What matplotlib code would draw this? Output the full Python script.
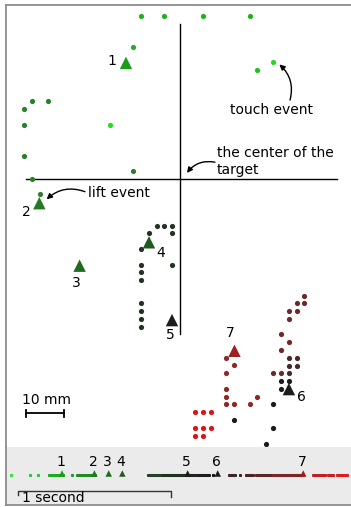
import matplotlib
matplotlib.use('Agg')
import matplotlib.pyplot as plt

# ---- touch trace, positions in mm relative to the target centre ----
touch_pt = [(24.1, 30.5)]
early_pt = [(20.1, 28.4)]
top_row = [(-10.2, 42.6), (-4.3, 42.6), (5.9, 42.6), (18.1, 42.6), (-12.3, 34.5)]
odd_pt = [(-18.3, 14.2)]
left_arc = [(-38.6, 20.3), (-34.6, 20.3), (-40.7, 18.3), (-40.7, 14.2),
            (-40.7, 6.1), (-12.3, 2.0), (-38.6, 0.0), (-36.6, -3.9)]
dark_green = [(-6.2, -12.2), (-4.2, -12.2), (-2.2, -12.2), (-8.2, -14.2), (-2.2, -14.2),
              (-10.3, -18.3), (-2.2, -22.3), (-10.3, -22.3), (-10.3, -24.3), (-10.3, -26.4),
              (-10.3, -32.4), (-10.3, -34.4), (-10.3, -36.5), (-10.3, -38.5)]
maroon_a = [(32.3, -30.4), (30.3, -32.4), (32.3, -32.4), (28.3, -34.4), (30.3, -34.4),
            (28.3, -36.5), (26.3, -40.5), (28.3, -42.6), (26.3, -44.6), (24.2, -50.7),
            (26.3, -50.7)]
maroon_b = [(28.3, -46.6), (30.3, -46.6), (28.3, -48.7), (30.3, -48.7), (28.3, -50.7)]
black_pts = [(26.3, -52.7), (28.3, -52.7), (26.3, -54.8), (24.2, -58.8), (24.2, -64.9),
             (22.2, -69.0), (14.1, -62.9)]
red_col = [(12.0, -46.6), (14.1, -48.6), (12.0, -50.7), (12.0, -54.8), (12.0, -56.8),
           (12.0, -58.8), (14.1, -58.8), (18.1, -58.8), (20.1, -56.8)]
red_block = [(3.9, -60.9), (5.9, -60.9), (7.9, -60.9), (3.9, -64.9), (5.9, -64.9),
             (7.9, -64.9), (3.9, -67.0), (5.9, -67.0)]

# numbered events (triangles)
ev_x = [-14.2, -36.8, -26.3, -8.2, -2.2, 28.3, 14.1]
ev_y = [30.3, -6.3, -22.6, -16.5, -36.8, -54.8, -44.8]
ev_lab = ['1', '2', '3', '4', '5', '6', '7']
ev_lab_x = [-17.9, -40.3, -27.2, -5.2, -2.6, 31.5, 13.0]
ev_lab_y = [30.9, -8.7, -27.1, -19.4, -40.6, -56.8, -40.1]
ev_col = ['#1c9c1c', '#227a22', '#1f6b1f', '#215a21', '#1c1c1c', '#1c1c1c', '#9e1f1f']

# ---- timeline, seconds ----
tl_seg = [(0.0, 0.0), (0.124, 0.124), (0.175, 0.175), (0.251, 0.343), (0.399, 0.399),
          (0.430, 0.550), (0.895, 0.987), (0.995, 1.151), (1.159, 1.216), (1.231, 1.297),
          (1.321, 1.321), (1.428, 1.467), (1.500, 1.500), (1.539, 1.585), (1.604, 1.701),
          (1.716, 1.914), (1.976, 2.056), (2.076, 2.109), (2.135, 2.198)]
tl_col = ['#33dd33', '#26cc26', '#26cc26', '#22aa22', '#229922',
          '#248a24', '#2a3f2a', '#223022', '#1e241e', '#1c1c1c',
          '#151515', '#3c2424', '#3c2424', '#4a2424', '#5c2626',
          '#7a2626', '#c02222', '#cc1e1e', '#dd1c1c']
tl_ev = [0.334, 0.546, 0.640, 0.729, 1.157, 1.354, 1.914]

fig = plt.figure(figsize=(3.51, 5.07), dpi=100)
ax = fig.add_axes([6/351, 60/507, 345/351, 442/507])
ax.set_xlim(-45.5, 44.5)
ax.set_ylim(-69.9, 45.4)
ax.set_xticks([])
ax.set_yticks([])
for s in ['right', 'bottom']:
    ax.spines[s].set_visible(False)
for s in ['left', 'top']:
    ax.spines[s].set_color('#8c8c8c')
    ax.spines[s].set_linewidth(1.3)

# crosshair at target centre
ax.plot([-40.3, 40.8], [0, 0], color='black', lw=1, zorder=1)
ax.plot([0, 0], [-40.5, 40.4], color='black', lw=1, zorder=1)

groups = [(touch_pt, '#2bd42b'), (early_pt, '#23bf23'), (top_row, '#1faf1f'),
          (odd_pt, '#25d925'), (left_arc, '#2b7f2b'), (dark_green, '#233223'),
          (maroon_a, '#6e2828'), (maroon_b, '#452828'), (black_pts, '#1a1a1a'),
          (red_col, '#8c2828'), (red_block, '#d01a1a')]
for pts, c in groups:
    xs = [p[0] for p in pts]
    ys = [p[1] for p in pts]
    ax.scatter(xs, ys, s=14, color=c, linewidths=0, zorder=2)

ax.scatter(ev_x, ev_y, s=80, marker='^', color=ev_col, linewidths=0, zorder=3)
for lx, ly, t in zip(ev_lab_x, ev_lab_y, ev_lab):
    ax.text(lx, ly, t, fontsize=10, ha='center', va='center')

# annotations
ax.text(23.8, 18.0, 'touch event', fontsize=10, ha='center', va='center')
ax.annotate('', xy=(25.8, 29.9), xytext=(28.6, 20.6),
            arrowprops=dict(arrowstyle='-|>', color='black', lw=1, mutation_scale=8,
                            connectionstyle='arc3,rad=0.3', shrinkA=0, shrinkB=0))
ax.text(9.5, 4.6, 'the center of the\ntarget', fontsize=10, ha='left', va='center')
ax.annotate('', xy=(1.7, 1.6), xytext=(9.0, 4.4),
            arrowprops=dict(arrowstyle='-|>', color='black', lw=1, mutation_scale=8,
                            connectionstyle='arc3,rad=0.3', shrinkA=0, shrinkB=0))
ax.text(-24.0, -3.6, 'lift event', fontsize=10, ha='left', va='center')
ax.annotate('', xy=(-34.9, -5.3), xytext=(-24.9, -3.3),
            arrowprops=dict(arrowstyle='-|>', color='black', lw=1, mutation_scale=8,
                            connectionstyle='arc3,rad=0.3', shrinkA=0, shrinkB=0))

# 10 mm scale bar
ax.plot([-40.3, -30.3], [-61.1, -61.1], color='black', lw=1.3)
ax.plot([-40.3, -40.3], [-60.2, -62.0], color='black', lw=1.3)
ax.plot([-30.3, -30.3], [-60.2, -62.0], color='black', lw=1.3)
ax.text(-35.0, -57.7, '10 mm', fontsize=10, ha='center', va='center')

# ---- timeline strip ----
tl = fig.add_axes([6/351, 2/507, 345/351, 58/507])
tl.set_facecolor('#ebebeb')
tl.set_xlim(-0.033, 2.227)
tl.set_ylim(0, 58)
tl.set_xticks([])
tl.set_yticks([])
for s in ['right', 'top']:
    tl.spines[s].set_visible(False)
for s in ['left', 'bottom']:
    tl.spines[s].set_color('#8c8c8c')
    tl.spines[s].set_linewidth(1.3)

ty = 30.5
for (a, b), c in zip(tl_seg, tl_col):
    tl.plot([a, b], [ty, ty], color=c, lw=2.2, solid_capstyle='round')
    tl.scatter([a, b], [ty, ty], s=5, color=c, linewidths=0)
tl.scatter(tl_ev, [ty + 1] * len(tl_ev), s=22, marker='^', color=ev_col, linewidths=0, zorder=3)
for t, lab in zip(tl_ev, ev_lab):
    tl.text(t - 0.008, 43.5, lab, fontsize=10, ha='center', va='center')

# 1 second bracket
tl.plot([0.048, 0.048, 1.048, 1.048], [10, 14, 14, 8], color='#333333', lw=1)
tl.text(0.075, 6.5, '1 second', fontsize=10, ha='left', va='center')

fig.savefig('out.png', dpi=100)
